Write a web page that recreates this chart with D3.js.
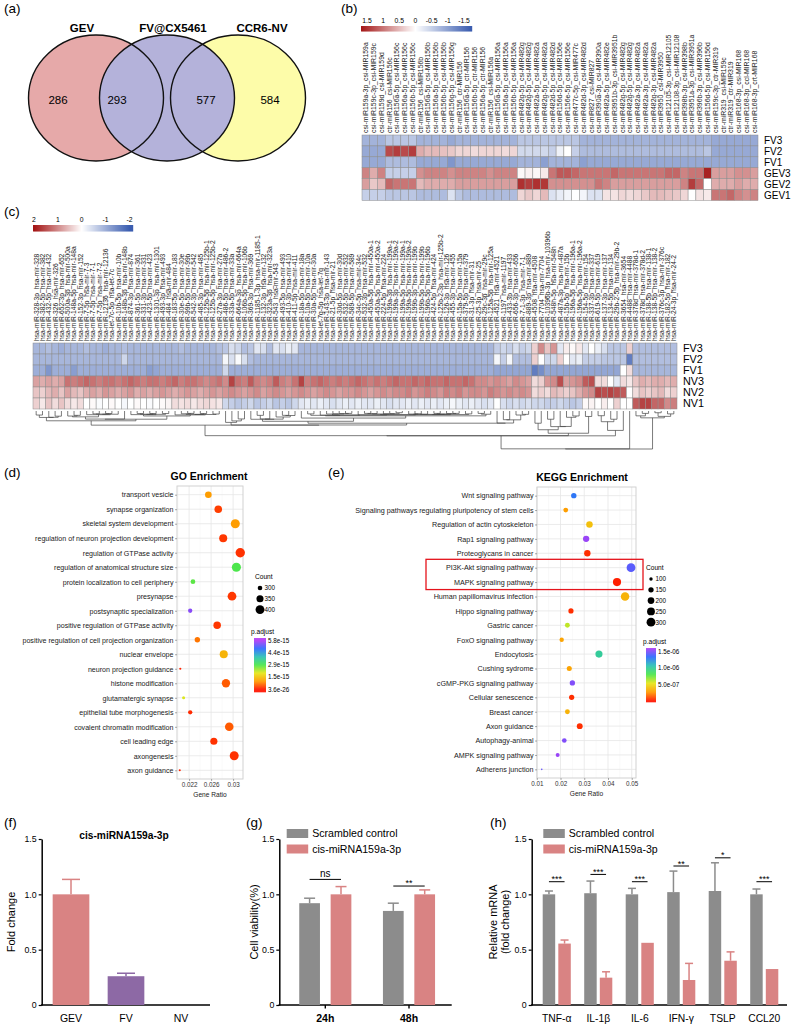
<!DOCTYPE html>
<html>
<head>
<meta charset="utf-8">
<script src="https://cdn.jsdelivr.net/npm/d3@7"></script>
<style>
  body { margin: 0; background: #fff; }
  svg text { font-family: "Liberation Sans", Arial, Helvetica, sans-serif; }
</style>
</head>
<body>
<svg id="fig" width="793" height="1027"></svg>
<script>
// ---------- data ----------
// (a) venn
const vennSets = ["GEV", "FV@CX5461", "CCR6-NV"];
const vennCounts = [286, 293, 577, 584]; // GEV only, GEV&FV, FV&NV, NV only

// (b) plant miRNA heatmap
const bRows = ["FV3", "FV2", "FV1", "GEV3", "GEV2", "GEV1"];
const bCols = ["csi-miR159a-3p_csi-MIR159a", "csi-miR159c-3p_csi-MIR159c", "csi-miR159d_csi-MIR159d",
  "ctr-miR156_csi-MIR156c", "csi-miR156a-5p_csi-MIR156c", "csi-miR156a-5p_csi-MIR156c", "csi-miR156b-5p_csi-MIR156c",
  "ctr-miR156_csi-MIR156b", "csi-miR156a-5p_csi-MIR156b", "csi-miR156a-5p_csi-MIR156b", "csi-miR156b-5p_csi-MIR156b",
  "csi-miR156g-5p_csi-MIR156g", "ctr-miR156_ctr-MIR156", "csi-miR156a-5p_ctr-MIR156", "csi-miR156b-5p_ctr-MIR156",
  "csi-miR156a-5p_ctr-MIR156", "ctr-miR156_csi-MIR156a", "csi-miR156a-5p_csi-MIR156a", "csi-miR156a-5p_csi-MIR156a",
  "csi-miR156b-5p_csi-MIR156a", "csi-miR482g-5p_csi-MIR482g", "csi-miR482g-5p_csi-MIR482g", "csi-miR482a-5p_csi-MIR482a",
  "csi-miR482g-5p_csi-MIR482a", "csi-miR482d-5p_csi-MIR482d", "csi-miR156d-5p_csi-MIR156e", "csi-miR156e-5p_csi-MIR156e",
  "csi-miR477c-5p_csi-MIR477c", "csi-miR482d-3p_csi-MIR482d", "csi-miR827_csi-MIR827", "csi-miR390a-3p_csi-MIR390a",
  "csi-miR482a-5p_csi-MIR482e", "csi-miR3951b-3p_csi-MIR3951b", "csi-miR482g-5p_csi-MIR482g", "csi-miR482g-5p_csi-MIR482g",
  "csi-miR482a-3p_csi-MIR482a", "csi-miR482a-3p_csi-MIR482a", "csi-miR482g-3p_csi-MIR482a", "csi-miR3950_csi-MIR3950",
  "csi-miR12105-3p_csi-MIR12105", "csi-miR12108-3p_csi-MIR12108", "csi-miR398b-3p_csi-MIR398b", "csi-miR3951a-3p_csi-MIR3951a",
  "csi-miR396b-3p_csi-MIR396b", "csi-miR156d-5p_csi-MIR156d", "csi-miR159c-3p_ctr-MIR319", "ctr-miR319_csi-MIR159c",
  "ctr-miR319_ctr-MIR319", "csi-miR168-3p_csi-MIR168", "csi-miR168-3p_ccl-MIR168", "csi-miR168-3p_crt-MIR168"];
const bFV3 = [-0.8,-0.8,-0.8,-0.6,-0.6,-0.6,-0.6,-0.8,-0.8,-0.8,
  -0.8,-0.9,-0.8,-0.8,-0.8,-0.8,-0.8,-0.8,-0.8,-0.8,
  -0.6,-0.6,-0.6,-0.6,-0.6,-0.6,-0.6,-0.6,-0.8,-0.8,
  -0.8,-0.8,-0.8,-0.8,-0.8,-0.8,-0.8,-0.8,-0.8,-0.8,
  -0.8,-0.8,-0.8,-0.8,-0.8,-0.9,-0.9,-0.9,-0.9,-0.9, -0.9];
const bFV2 = [-0.9,-0.9,-0.9,1.3,1.4,1.3,1.4,0.6,0.5,0.5,
  0.45,0.4,0.3,0.3,0.25,0.3,0.3,0.3,0.25,0.3,
  -0.4,-0.4,-0.4,-0.4,-0.5,-0.15,0.0,-0.5,-0.7,-0.7,
  -0.7,-0.7,-0.7,-0.7,-0.7,-0.7,-0.7,-0.7,-0.7,-0.7,
  -0.7,-0.7,-0.7,-0.7,-0.6,-0.9,-0.9,-0.9,-0.9,-0.9, -0.9];
const bFV1 = [-0.9,-0.9,-0.9,-0.7,-0.7,-0.7,-0.7,-0.9,-0.9,-0.9,
  -0.9,-1.1,-0.9,-0.9,-0.9,-0.9,-0.9,-0.9,-0.9,-0.9,
  -0.8,-0.8,-0.8,-1.0,-0.8,-0.8,-0.8,-0.8,-1.0,-0.9,
  -0.9,-0.9,-0.9,-0.9,-0.9,-0.9,-0.9,-0.9,-0.9,-0.9,
  -0.9,-0.9,-0.9,-0.9,-0.9,-0.9,-0.9,-0.9,-0.9,-0.9, -0.9];
const bGEV3 = [0.9,0.6,0.9,-0.5,-0.5,-0.5,-0.5,0.8,0.9,0.9,
  0.9,0.8,0.9,0.9,0.9,0.9,0.8,0.9,0.9,0.9,
  0.05,0.1,0.05,0.15,1.0,1.2,1.2,1.1,1.0,1.0,
  1.0,1.0,1.1,1.0,1.0,1.0,1.0,1.0,1.0,1.1,
  1.1,0.9,1.0,1.0,1.6,0.7,0.7,0.7,0.8,0.8, 0.7];
const bGEV2 = [0.7,0.4,0.5,1.1,1.0,1.0,1.0,0.5,0.6,0.6,
  0.6,0.6,0.7,0.7,0.7,0.7,0.7,0.7,0.7,0.7,
  1.5,1.4,1.5,1.45,0.8,0.8,0.8,0.8,0.8,0.8,
  1.0,0.9,0.7,0.7,0.7,0.7,0.7,0.7,0.7,0.7,
  0.7,0.9,1.4,1.1,0.0,0.6,0.6,0.6,0.7,0.6, 0.6];
const bGEV1 = [-0.5,-0.5,-0.5,-0.6,-0.6,-0.6,-0.6,-0.7,-0.7,-0.7,
  -0.7,-0.3,-0.6,-0.7,-0.7,-0.7,-0.7,-0.7,-0.7,-0.7,
  0.3,0.4,0.3,0.5,-0.3,-0.2,-0.1,0.0,-0.1,-0.3,
  -0.3,0.2,0.2,0.3,0.25,0.3,0.4,0.5,0.5,0.45,
  0.4,0.3,0.0,0.2,0.15,1.0,1.0,1.1,0.9,0.8, 0.9];
const bTicks = [1.5, 1, 0.5, 0, -0.5, -1, -1.5];

// (c) human miRNA heatmap
const cRows = ["FV3", "FV2", "FV1", "NV3", "NV2", "NV1"];
const cCols = ["hsa-miR-328-3p_hsa-mir-328", "hsa-miR-382-5p_hsa-mir-382", "hsa-miR-432-5p_hsa-mir-432",
  "hsa-miR-326_hsa-mir-326", "hsa-miR-652-3p_hsa-mir-652", "hsa-miR-500a-3p_hsa-mir-500a", "hsa-miR-148a-5p_hsa-mir-148a",
  "hsa-miR-152-3p_hsa-mir-152", "hsa-miR-7-5p_hsa-mir-7-3", "hsa-miR-7-5p_hsa-mir-7-1", "hsa-miR-7-5p_hsa-mir-7-2",
  "hsa-miR-12136_hsa-mir-12136", "hsa-let-7c-5p_hsa-let-7c", "hsa-miR-10b-5p_hsa-mir-10b", "hsa-miR-148b-3p_hsa-mir-148b",
  "hsa-miR-874-3p_hsa-mir-874", "hsa-miR-361-5p_hsa-mir-361", "hsa-miR-331-3p_hsa-mir-331", "hsa-miR-423-5p_hsa-mir-423",
  "hsa-miR-1301-3p_hsa-mir-1301", "hsa-miR-493-3p_hsa-mir-493", "hsa-miR-484_hsa-mir-484", "hsa-miR-183-5p_hsa-mir-183",
  "hsa-miR-30e-5p_hsa-mir-30e", "hsa-miR-99b-5p_hsa-mir-99b", "hsa-miR-542-3p_hsa-mir-542", "hsa-miR-485-3p_hsa-mir-485",
  "hsa-miR-125b-5p_hsa-mir-125b-1", "hsa-miR-125b-5p_hsa-mir-125b-2", "hsa-miR-27a-3p_hsa-mir-27a",
  "hsa-miR-486-5p_hsa-mir-486-2", "hsa-miR-33a-5p_hsa-mir-33a", "hsa-miR-664a-3p_hsa-mir-664a",
  "hsa-miR-106b-5p_hsa-mir-106b", "hsa-miR-369-3p_hsa-mir-369", "hsa-miR-1185-1-3p_hsa-mir-1185-1",
  "hsa-miR-132-3p_hsa-mir-132", "hsa-miR-323a-3p_hsa-mir-323a", "hsa-miR-543_hsa-mir-543", "hsa-miR-493-5p_hsa-mir-493",
  "hsa-miR-410-3p_hsa-mir-410", "hsa-miR-411-5p_hsa-mir-411", "hsa-miR-18a-5p_hsa-mir-18a", "hsa-miR-10a-5p_hsa-mir-10a",
  "hsa-miR-30a-5p_hsa-mir-30a", "hsa-let-7g-5p_hsa-let-7g", "hsa-miR-143-3p_hsa-mir-143", "hsa-miR-21-5p_hsa-mir-21",
  "hsa-miR-30d-5p_hsa-mir-30d", "hsa-miR-532-5p_hsa-mir-532", "hsa-miR-589-5p_hsa-mir-589", "hsa-miR-34c-5p_hsa-mir-34c",
  "hsa-miR-532-3p_hsa-mir-532", "hsa-miR-450a-5p_hsa-mir-450a-1", "hsa-miR-450a-5p_hsa-mir-450a-2",
  "hsa-miR-224-5p_hsa-mir-224", "hsa-miR-199a-3p_hsa-mir-199a-1", "hsa-miR-199a-3p_hsa-mir-199a-2",
  "hsa-miR-199a-5p_hsa-mir-199a-1", "hsa-miR-199a-5p_hsa-mir-199a-2", "hsa-miR-199b-3p_hsa-mir-199b",
  "hsa-miR-199b-5p_hsa-mir-199b", "hsa-miR-196b-5p_hsa-mir-196b", "hsa-miR-424-5p_hsa-mir-424",
  "hsa-miR-125b-2-3p_hsa-mir-125b-2", "hsa-miR-126-3p_hsa-mir-126", "hsa-miR-455-3p_hsa-mir-455",
  "hsa-miR-15a-5p_hsa-mir-15a", "hsa-miR-379-5p_hsa-mir-379", "hsa-miR-31-3p_hsa-mir-31", "hsa-miR-25-3p_hsa-mir-25",
  "hsa-miR-29c-3p_hsa-mir-29c", "hsa-miR-125a-5p_hsa-mir-125a", "hsa-miR-4521_hsa-mir-4521", "hsa-miR-1197_hsa-mir-1197",
  "hsa-miR-433-3p_hsa-mir-433", "hsa-miR-656-3p_hsa-mir-656", "hsa-miR-7-1-3p_hsa-mir-7-1", "hsa-miR-889-3p_hsa-mir-889",
  "hsa-miR-4508_hsa-mir-4508", "hsa-miR-7704_hsa-mir-7704", "hsa-miR-10396b-3p_hsa-mir-10396b",
  "hsa-miR-548h-5p_hsa-mir-548h", "hsa-miR-487a-3p_hsa-mir-487a", "hsa-miR-15b-5p_hsa-mir-15b",
  "hsa-miR-196a-5p_hsa-mir-196a-1", "hsa-miR-196a-5p_hsa-mir-196a-2", "hsa-miR-154-5p_hsa-mir-154",
  "hsa-miR-337-3p_hsa-mir-337", "hsa-miR-619-5p_hsa-mir-619", "hsa-miR-137-3p_hsa-mir-137", "hsa-miR-134-5p_hsa-mir-134",
  "hsa-miR-29b-2-5p_hsa-mir-29b-2", "hsa-miR-3654_hsa-mir-3654", "hsa-miR-4488_hsa-mir-4488",
  "hsa-miR-378d_hsa-mir-378d-1", "hsa-miR-378d_hsa-mir-378d-2", "hsa-miR-138-5p_hsa-mir-138-1",
  "hsa-miR-138-5p_hsa-mir-138-2", "hsa-miR-376c-3p_hsa-mir-376c", "hsa-miR-182-5p_hsa-mir-182", "hsa-miR-24-3p_hsa-mir-24-2"];
const cFV3 = [-0.9,-0.9,-0.8,-0.9,-1.0,-0.9,-0.9,-0.9,-0.8,-0.9,
  -0.9,-1.0,-0.9,-0.9,-0.8,-0.9,-0.9,-0.9,-0.9,-0.9,
  -0.9,-0.9,-0.9,-0.8,-0.9,-0.9,-0.9,-0.9,-0.9,-0.8,
  -0.7,-0.4,-0.5,-0.8,-0.7,-0.3,-0.4,-0.8,-0.3,-0.4,
  -0.2,-0.3,-0.9,-0.9,-0.9,-0.9,-0.9,-0.9,-0.9,-0.9,
  -0.9,-0.9,-0.9,-0.9,-0.9,-0.9,-0.9,-0.9,-0.9,-0.9,
  -0.9,-0.9,-0.9,-0.9,-0.9,-0.9,-0.9,-0.9,-0.9,-0.9,
  -0.9,-0.9,-0.9,-0.6,-0.5,-0.6,-0.4,-0.6,-0.5,0.4,
  1.0,0.5,0.9,-0.3,0.15,0.05,0.2,-0.3,0.0,-0.2,
  -0.4,-0.7,-0.7,-0.7,0.4,-0.8,-0.8,-0.8,-0.8,-0.8,
  -0.8,-0.8];
const cFV2 = [-0.9,-0.9,-0.9,-0.9,-0.9,-0.9,-0.9,-0.9,-0.9,-0.9,
  -0.9,-0.9,-0.9,-0.9,-0.5,-0.9,-0.9,-0.9,-0.9,-0.9,
  -0.9,-0.9,-0.9,-0.9,-0.9,-0.9,-0.9,-0.9,-0.9,-0.9,
  -0.1,-0.4,-0.05,-0.4,-0.8,-0.9,-0.9,-0.9,-0.9,-0.9,
  -0.9,-0.9,-0.9,-0.9,-0.9,-0.9,-0.9,-0.9,-0.9,-0.9,
  -0.9,-0.9,-0.9,-0.9,-0.9,-0.9,-0.9,-0.9,-0.9,-0.9,
  -0.9,-0.9,-0.9,-0.9,-0.9,-0.9,-0.9,-0.9,-0.9,-0.9,
  -0.9,-0.9,-0.9,-0.1,-0.6,-0.1,-0.8,-0.8,-0.8,0.4,
  0.0,-0.5,-0.5,0.4,0.0,-0.3,-0.2,-0.6,-0.6,-0.6,
  -0.7,-0.7,-0.7,-0.7,-1.6,-0.8,-0.8,-0.8,-0.8,-0.8,
  -0.8,-0.8];
const cFV1 = [-1.0,-1.0,-1.3,-1.0,-1.0,-1.0,-1.2,-1.0,-1.0,-1.0,
  -1.0,-1.0,-1.0,-1.0,-1.0,-1.0,-1.0,-1.0,-1.2,-1.1,
  -1.0,-1.0,-1.0,-1.0,-1.0,-1.0,-1.0,-1.0,-1.0,-1.0,
  -0.5,-1.0,-1.0,-1.0,-1.0,-1.0,-1.0,-1.0,-1.0,-1.0,
  -1.0,-1.0,-1.0,-1.0,-1.0,-1.0,-1.0,-1.0,-1.0,-1.0,
  -1.0,-1.0,-1.0,-1.0,-1.0,-1.0,-1.0,-1.0,-1.0,-1.0,
  -1.0,-1.0,-1.0,-1.0,-1.0,-1.0,-1.0,-1.0,-1.0,-1.0,
  -1.0,-1.0,-1.0,-1.1,-1.1,-1.1,-1.1,-1.1,-1.1,-1.6,
  -1.4,-1.1,-1.1,-1.1,-1.1,-1.1,-1.1,-1.1,-1.1,-1.1,
  -1.1,-1.1,-1.1,0.0,0.3,-0.9,-0.9,-0.9,-0.9,-0.9,
  -0.9,-0.9];
const cNV3 = [0.8,0.7,0.8,0.7,0.8,1.2,1.1,1.2,1.3,1.2,
  1.1,1.2,1.2,1.1,1.2,1.3,1.2,1.1,1.2,1.2,
  1.1,1.2,1.3,1.1,1.2,1.2,1.1,1.0,1.1,1.2,
  1.0,1.6,1.2,1.1,1.4,1.1,1.0,1.1,1.4,1.1,
  1.0,1.2,1.6,1.1,1.2,1.3,1.2,1.1,1.2,1.1,
  1.2,1.3,1.2,1.1,1.2,1.1,1.2,1.3,1.2,1.2,
  1.3,1.2,1.3,1.2,1.2,1.3,1.2,1.2,1.3,1.2,
  1.0,1.0,0.9,1.0,0.9,0.8,1.0,0.9,0.8,0.3,
  0.4,0.9,1.0,1.5,0.8,0.9,1.0,1.4,1.5,0.3,
  0.3,0.0,-0.3,0.3,0.2,0.5,0.7,0.6,0.7,0.7,
  0.6,0.7];
const cNV2 = [0.5,0.4,0.6,0.7,0.5,0.8,0.6,0.5,0.7,0.8,
  0.7,0.9,0.8,0.7,0.8,0.9,0.7,0.8,0.7,0.8,
  0.9,0.8,0.7,0.8,0.9,0.8,0.7,0.8,0.9,0.8,
  0.9,1.0,0.9,0.8,0.9,1.0,0.8,0.9,1.0,0.9,
  0.8,0.9,1.0,0.9,0.8,0.9,1.0,0.9,0.8,0.9,
  0.9,1.0,0.9,0.8,0.9,1.0,0.9,1.0,1.0,1.1,
  0.9,1.0,1.1,1.0,0.9,1.1,1.0,1.1,0.9,1.0,
  1.0,0.9,1.1,1.0,0.9,1.0,0.9,1.0,0.9,0.3,
  0.4,0.3,0.6,0.5,0.4,0.5,0.7,0.9,1.0,1.6,
  1.5,1.6,1.5,1.4,0.0,0.3,0.5,0.4,0.5,0.6,
  0.3,0.4];
const cNV1 = [0.4,0.2,0.5,0.3,0.5,0.3,0.2,0.3,0.0,0.05,
  -0.05,0.0,0.05,0.0,-0.1,0.0,0.05,0.0,-0.05,0.0,
  0.05,0.1,0.3,0.25,0.3,0.2,0.3,0.35,0.25,0.2,
  -0.5,-0.6,-0.7,-0.6,-0.5,-0.7,-0.6,-0.5,-0.7,-0.6,
  -0.7,-0.5,-0.3,-0.2,-0.3,-0.2,-0.3,-0.4,-0.3,-0.2,
  -0.3,-0.2,-0.3,-0.3,-0.2,-0.3,-0.4,-0.3,-0.3,-0.2,
  -0.3,-0.2,-0.3,-0.2,-0.3,-0.2,-0.1,-0.2,-0.3,-0.2,
  -0.3,-0.4,-0.3,0.0,-0.4,-0.5,-0.4,-0.5,-0.4,-0.5,
  -0.5,-0.6,-0.6,-0.5,-0.6,-0.7,-0.6,0.05,0.1,0.0,
  0.15,0.0,0.4,0.0,0.0,1.4,1.6,1.6,1.3,1.3,
  1.0,1.1];
const cTicks = [2, 1, 0, -1, -2];

// (d) GO enrichment
const goTerms = ["transport vesicle", "synapse organization", "skeletal system development",
  "regulation of neuron projection development", "regulation of GTPase activity",
  "regulation of anatomical structure size", "protein localization to cell periphery", "presynapse",
  "postsynaptic specialization", "positive regulation of GTPase activity",
  "positive regulation of cell projection organization", "nuclear envelope", "neuron projection guidance",
  "histone modification", "glutamatergic synapse", "epithelial tube morphogenesis",
  "covalent chromatin modification", "cell leading edge", "axongenesis", "axon guidance"];
const goRatio = [0.0255, 0.0273, 0.0304, 0.0282, 0.0313, 0.0306, 0.0227, 0.0298, 0.0222, 0.0271,
  0.0235, 0.0283, 0.0204, 0.0287, 0.0210, 0.0222, 0.0293, 0.0265, 0.0302, 0.0203];
const goCount = [339, 363, 404, 375, 416, 407, 302, 396, 295, 360, 313, 376, 271, 382, 279, 295, 390, 352, 402, 270];
const goPadj = [1.0e-15, 0.3e-15, 1.0e-15, 0.25e-15, 0.2e-15, 2.9e-15, 2.8e-15, 0.25e-15, 5.5e-15, 0.25e-15,
  0.7e-15, 1.3e-15, 0.1e-15, 0.5e-15, 2.0e-15, 0.15e-15, 0.5e-15, 0.2e-15, 0.2e-15, 0.1e-15];
const goTicks = [0.022, 0.026, 0.03];
const goCountBreaks = [300, 350, 400];
const goPadjBreaks = [5.8e-15, 4.4e-15, 2.9e-15, 1.5e-15, 3.6e-26];
const goPadjLabels = ["5.8e-15", "4.4e-15", "2.9e-15", "1.5e-15", "3.6e-26"];

// (e) KEGG enrichment
const keggTerms = ["Wnt signaling pathway", "Signaling pathways regulating pluripotency of stem cells",
  "Regulation of actin cytoskeleton", "Rap1 signaling pathway", "Proteoglycans in cancer",
  "PI3K-Akt signaling pathway", "MAPK signaling pathway", "Human papillomavirus infection",
  "Hippo signaling pathway", "Gastric cancer", "FoxO signaling pathway", "Endocytosis", "Cushing sydrome",
  "cGMP-PKG signaling pathway", "Cellular senescence", "Breast cancer", "Axon guidance", "Autophagy-animal",
  "AMPK signaling pathway", "Adherens junction"];
const keggRatio = [0.0256, 0.0222, 0.0322, 0.0308, 0.0313, 0.0497, 0.0438, 0.0472, 0.0244, 0.0229,
  0.0205, 0.0362, 0.0237, 0.0250, 0.0247, 0.0229, 0.0281, 0.0216, 0.0188, 0.0121];
const keggCount = [154, 133, 193, 185, 188, 298, 263, 283, 146, 137, 123, 217, 142, 150, 148, 137, 169, 130, 113, 73];
const keggPadj = [1.3e-6, 0.28e-6, 0.4e-6, 1.55e-6, 0.05e-6, 1.42e-6, 0.02e-6, 0.35e-6, 0.05e-6, 0.6e-6,
  0.3e-6, 1.0e-6, 0.3e-6, 1.5e-6, 0.05e-6, 0.35e-6, 0.05e-6, 1.5e-6, 1.55e-6, 1.45e-6];
const keggTicks = [0.01, 0.02, 0.03, 0.04, 0.05];
const keggCountBreaks = [100, 150, 200, 250, 300];
const keggPadjBreaks = [1.5e-6, 1.0e-6, 5.0e-7];
const keggPadjLabels = ["1.5e-06", "1.0e-06", "5.0e-07"];
const keggBoxed = ["PI3K-Akt signaling pathway", "MAPK signaling pathway"];

// (f) fold change
const fGroups = ["GEV", "FV", "NV"];
const fMean = [1.0, 0.26, 0];
const fErr = [0.135, 0.027, 0];

// (g) cell viability
const gTimes = ["24h", "48h"];
const gScr = [0.92, 0.85];
const gScrErr = [0.045, 0.07];
const gCis = [1.0, 1.0];
const gCisErr = [0.07, 0.04];
const gSig = ["ns", "**"];
const gSigY = [1.135, 1.075];

// (h) relative mRNA
const hGenes = ["TNF-α", "IL-1β", "IL-6", "IFN-γ", "TSLP", "CCL20"];
const hScr = [1.0, 1.01, 1.0, 1.02, 1.03, 1.0];
const hScrErr = [0.03, 0.11, 0.054, 0.19, 0.255, 0.048];
const hCis = [0.555, 0.247, 0.562, 0.226, 0.40, 0.325];
const hCisErr = [0.032, 0.053, 0.004, 0.15, 0.08, 0.004];
const hSig = ["***", "***", "***", "**", "*", "***"];
const hSigY = [1.114, 1.18, 1.114, 1.256, 1.33, 1.114];

const yTicks = [0, 0.5, 1, 1.5];
const legendNames = ["Scrambled control", "cis-miRNA159a-3p"];

// ---------- drawing ----------
const svg = d3.select("#fig");
svg.append("rect").attr("width", 793).attr("height", 1027).attr("fill", "#fff");

const PINK = "#d98383", GRAY = "#8c8c8c", PURPLE = "#8d69a5";

function panelLabel(t, x, y) {
  svg.append("text").attr("x", x).attr("y", y).attr("font-size", 13.5).text(t);
}
panelLabel("(a)", 4, 13);
panelLabel("(b)", 341, 13);
panelLabel("(c)", 4, 216);
panelLabel("(d)", 4, 477);
panelLabel("(e)", 328, 477);
panelLabel("(f)", 4, 827);
panelLabel("(g)", 246, 827);
panelLabel("(h)", 490, 827);

// ----- (a) venn -----
const venn = svg.append("g");
const vx = d3.scalePoint().domain(vennSets).range([96, 238]);
const vFill = ["#e6a9a9", "#b4b2da", "#fdfca9"];
[0, 2, 1].forEach(i => {
  venn.append("ellipse").attr("cx", vx(vennSets[i])).attr("cy", 98).attr("rx", 67.5).attr("ry", 63)
    .attr("fill", vFill[i]);
});
vennSets.forEach(s => {
  venn.append("ellipse").attr("cx", vx(s)).attr("cy", 98).attr("rx", 67.5).attr("ry", 63)
    .attr("fill", "none").attr("stroke", "#111").attr("stroke-width", 1.4);
});
venn.selectAll(".setlab").data(vennSets).join("text")
  .attr("x", d => vx(d) + (d === "GEV" ? -14 : d === "CCR6-NV" ? 24 : 6)).attr("y", 32)
  .attr("text-anchor", "middle").attr("font-weight", "bold").attr("font-size", 11.5).text(d => d);
const regionX = [vx("GEV") - 38, vx("FV@CX5461") - 50, vx("FV@CX5461") + 39, vx("CCR6-NV") + 32];
venn.selectAll(".cnt").data(vennCounts).join("text")
  .attr("x", (d, i) => regionX[i]).attr("y", 104).attr("text-anchor", "middle")
  .attr("font-size", 11.5).text(d => d);

// ----- heatmap helper -----
function heatmap(o) {
  const g = svg.append("g");
  const x = d3.scaleBand().domain(d3.range(o.cols.length)).range([o.x0, o.x1]);
  const y = d3.scaleBand().domain(o.rows).range([o.y0, o.y1]);
  o.values.forEach((vals, i) => {
    g.selectAll(null).data(vals).join("rect")
      .attr("x", (d, j) => x(j)).attr("y", y(o.rows[i]))
      .attr("width", x.bandwidth()).attr("height", y.bandwidth())
      .attr("fill", d => o.color(d)).attr("stroke", "#8d8d8d").attr("stroke-width", 0.5);
  });
  g.selectAll(".cl").data(o.cols).join("text")
    .attr("transform", (d, j) => `translate(${x(j) + x.bandwidth() / 2 + o.fs * 0.36},${o.y0 - 2}) rotate(-90)`)
    .attr("font-size", o.fs).attr("fill", "#1a1a1a").text(d => d);
  g.selectAll(".rl").data(o.rows).join("text")
    .attr("x", o.x1 + 6).attr("y", d => y(d) + y.bandwidth() / 2 + o.rowFs * 0.36)
    .attr("font-size", o.rowFs).text(d => d);
  // colour key
  const lx = d3.scaleLinear().domain(o.keyDomain).range(o.keyRange);
  const steps = d3.range(o.keyX0, o.keyX1, 1);
  g.selectAll(".key").data(steps).join("rect")
    .attr("x", d => d).attr("y", o.keyY).attr("width", 1.2).attr("height", o.keyH)
    .attr("fill", d => o.color(lx.invert(d + 0.5)));
  g.selectAll(".kt").data(o.keyTicks).join("text")
    .attr("x", d => lx(d)).attr("y", o.keyY - 3.5).attr("text-anchor", "middle")
    .attr("font-size", 6.8).text(d => d);
  return {g, x, y};
}

// ----- (b) -----
const bColor = d3.scaleLinear().domain([1.7, 0, -1.7]).range(["#a31414", "#ffffff", "#3b5db0"]).clamp(true);
heatmap({
  cols: bCols, rows: bRows, values: [bFV3, bFV2, bFV1, bGEV3, bGEV2, bGEV1],
  x0: 362, x1: 758, y0: 135, y1: 200.5, color: bColor, fs: 6.9, rowFs: 10,
  keyDomain: [1.5, -1.5], keyRange: [367, 464], keyX0: 361, keyX1: 472, keyY: 26, keyH: 5.5, keyTicks: bTicks
});

// ----- (c) -----
const cColor = d3.scaleLinear().domain([2, 0, -2]).range(["#a31414", "#ffffff", "#3b5db0"]).clamp(true);
const cVals = [cFV3, cFV2, cFV1, cNV3, cNV2, cNV1];
const cMap = heatmap({
  cols: cCols, rows: cRows, values: cVals,
  x0: 33, x1: 677, y0: 343, y1: 409, color: cColor, fs: 6.7, rowFs: 10.8,
  keyDomain: [2, -2], keyRange: [34, 129.5], keyX0: 33, keyX1: 133, keyY: 225, keyH: 6.5, keyTicks: cTicks
});

// column dendrogram: average linkage, merging neighbouring clusters only (keeps the column order)
function clusterColumns(rows) {
  const n = rows[0].length;
  const vec = d3.range(n).map(j => rows.map(r => r[j]));
  const dist = (a, b) => Math.sqrt(d3.sum(a, (v, k) => (v - b[k]) ** 2));
  const link = (A, B) => d3.mean(A.members, i => d3.mean(B.members, j => dist(vec[i], vec[j])));
  let cl = vec.map((v, j) => ({members: [j], height: 0, leaf: j}));
  while (cl.length > 1) {
    let best = 0, bd = Infinity;
    for (let i = 0; i < cl.length - 1; i++) {
      const d = link(cl[i], cl[i + 1]);
      if (d < bd) { bd = d; best = i; }
    }
    const a = cl[best], b = cl[best + 1];
    cl.splice(best, 2, {members: a.members.concat(b.members), height: Math.max(bd, a.height, b.height) + 0.01, left: a, right: b});
  }
  return cl[0];
}
const root = clusterColumns(cVals);
const dy = d3.scaleLinear().domain([0, root.height]).range([411, 449]);
const dendro = svg.append("g").attr("fill", "none").attr("stroke", "#444").attr("stroke-width", 0.7);
(function walk(node) {
  if (node.leaf !== undefined) { node.px = cMap.x(node.leaf) + cMap.x.bandwidth() / 2; return; }
  walk(node.left); walk(node.right);
  node.px = (node.left.px + node.right.px) / 2;
  dendro.append("path").attr("d",
    `M${node.left.px},${dy(node.left.height)}V${dy(node.height)}H${node.right.px}V${dy(node.right.height)}`);
})(root);

// ----- dot plot helper (d, e) -----
const rainbow = d3.piecewise(d3.interpolateRgb,
  ["#ff1500", "#ff9a00", "#e6e61a", "#4ce64c", "#2cc2b4", "#2e6bff", "#b23cf5"]);

function dotPlot(o) {
  const g = svg.append("g");
  const x = d3.scaleLinear().domain(o.xDomain).range([o.left, o.right]);
  const y = d3.scalePoint().domain(o.terms).range([o.top, o.bottom]).padding(0.6);
  const r = d3.scaleRadial().domain(o.countDomain).range(o.rRange);
  const col = d3.scaleSequential(rainbow).domain(o.padjDomain).clamp(true);

  g.append("text").attr("x", o.titleX).attr("y", o.top - 6).attr("text-anchor", "middle")
    .attr("font-weight", "bold").attr("font-size", 10.5).text(o.title);
  g.selectAll(".minor").data(o.minor).join("line")
    .attr("x1", d => x(d)).attr("x2", d => x(d)).attr("y1", o.top).attr("y2", o.bottom)
    .attr("stroke", "#f3f3f3").attr("stroke-width", 0.5);
  g.selectAll(".major").data(o.ticks).join("line")
    .attr("x1", d => x(d)).attr("x2", d => x(d)).attr("y1", o.top).attr("y2", o.bottom)
    .attr("stroke", "#e6e6e6").attr("stroke-width", 0.8);
  g.selectAll(".hgrid").data(o.terms).join("line")
    .attr("x1", o.left).attr("x2", o.right).attr("y1", d => y(d)).attr("y2", d => y(d))
    .attr("stroke", "#e6e6e6").attr("stroke-width", 0.8);
  g.append("rect").attr("x", o.left).attr("y", o.top).attr("width", o.right - o.left)
    .attr("height", o.bottom - o.top).attr("fill", "none").attr("stroke", "#cdcdcd").attr("stroke-width", 0.9);

  g.selectAll(".pt").data(o.terms).join("circle")
    .attr("cx", (d, i) => x(o.ratio[i])).attr("cy", d => y(d))
    .attr("r", (d, i) => r(o.count[i])).attr("fill", (d, i) => col(o.padj[i]));

  const ya = g.append("g").attr("transform", `translate(${o.left},0)`)
    .call(d3.axisLeft(y).tickSize(2).tickPadding(1.5));
  ya.select(".domain").remove();
  ya.selectAll("line").attr("stroke", "#555").attr("stroke-width", 0.5);
  ya.selectAll("text").attr("font-size", o.labFs).attr("fill", "#1a1a1a").attr("font-family", null);

  const xa = g.append("g").attr("transform", `translate(0,${o.bottom})`)
    .call(d3.axisBottom(x).tickValues(o.ticks).tickFormat((d, i) => o.tickLabels[i]).tickSize(2).tickPadding(1.5));
  xa.select(".domain").remove();
  xa.selectAll("line").attr("stroke", "#555").attr("stroke-width", 0.5);
  xa.selectAll("text").attr("font-size", 6.3).attr("fill", "#333").attr("font-family", null);
  g.append("text").attr("x", (o.left + o.right) / 2).attr("y", o.bottom + 18).attr("text-anchor", "middle")
    .attr("font-size", 6.6).attr("fill", "#222").text("Gene Ratio");

  // size legend
  g.append("text").attr("x", o.cntX).attr("y", o.cntY).attr("font-size", 6.6).text("Count");
  const cy = d3.scalePoint().domain(o.countBreaks).range([o.cntY + 9, o.cntY + 9 + 10.8 * (o.countBreaks.length - 1)]);
  g.selectAll(".lc").data(o.countBreaks).join("circle")
    .attr("cx", o.cntX + 5).attr("cy", d => cy(d)).attr("r", d => r(d)).attr("fill", "#000");
  g.selectAll(".lt").data(o.countBreaks).join("text")
    .attr("x", o.cntX + 9.5).attr("y", d => cy(d) + 2.3).attr("font-size", 6.3).text(d => d);

  // colour bar
  g.append("text").attr("x", o.barX - 3).attr("y", o.barTop - 4).attr("font-size", 6.6).text("p.adjust");
  const by = d3.scaleLinear().domain(o.barDomain).range(o.barRange);
  g.selectAll(".cb").data(d3.range(o.barTop, o.barBottom, 0.5)).join("rect")
    .attr("x", o.barX).attr("y", d => d).attr("width", o.barW).attr("height", 0.8)
    .attr("fill", d => col(by.invert(d + 0.25)));
  g.selectAll(".cbt").data(o.padjBreaks).join("text")
    .attr("x", o.barX + o.barW + 2).attr("y", d => by(d) + 2.3).attr("font-size", 6.3)
    .text((d, i) => o.padjLabels[i]);
  return {g, x, y};
}

dotPlot({
  title: "GO Enrichment", titleX: 209, terms: goTerms, ratio: goRatio, count: goCount, padj: goPadj,
  left: 177, right: 243, top: 486, bottom: 779, xDomain: [0.0198, 0.0318],
  ticks: goTicks, tickLabels: ["0.022", "0.026", "0.03"], minor: [0.020, 0.024, 0.028],
  countDomain: [270, 416], rRange: [1, 4.7], padjDomain: [3.6e-26, 5.8e-15], labFs: 7.1,
  countBreaks: goCountBreaks, cntX: 255, cntY: 579,
  barX: 254, barW: 12, barTop: 638, barBottom: 692, barDomain: [0, 5.8e-15], barRange: [689.5, 640.5],
  padjBreaks: goPadjBreaks, padjLabels: goPadjLabels
});

const kegg = dotPlot({
  title: "KEGG Enrichment", titleX: 582, terms: keggTerms, ratio: keggRatio, count: keggCount, padj: keggPadj,
  left: 537, right: 636, top: 487, bottom: 778, xDomain: [0.0101, 0.0518],
  ticks: keggTicks, tickLabels: ["0.01", "0.02", "0.03", "0.04", "0.05"], minor: [0.015, 0.025, 0.035, 0.045],
  countDomain: [73, 298], rRange: [0.8, 4.4], padjDomain: [0, 1.6e-6], labFs: 7.2,
  countBreaks: keggCountBreaks, cntX: 646, cntY: 570,
  barX: 646, barW: 10, barTop: 648, barBottom: 702, barDomain: [0, 1.6e-6], barRange: [701, 648],
  padjBreaks: keggPadjBreaks, padjLabels: keggPadjLabels
});
// highlight box
const ks = kegg.y.step();
kegg.g.append("rect").attr("x", 426).attr("y", kegg.y(keggBoxed[0]) - ks * 0.58)
  .attr("width", 217).attr("height", kegg.y(keggBoxed[1]) - kegg.y(keggBoxed[0]) + ks * 1.1)
  .attr("fill", "none").attr("stroke", "#e5131b").attr("stroke-width", 1.3);

// ----- bar chart helpers (f, g, h) -----
function barFrame(o) {
  const g = svg.append("g");
  const y = d3.scaleLinear().domain([0, 1.5]).range([1005, 839]);
  const ya = g.append("g").attr("transform", `translate(${o.xl},0)`)
    .call(d3.axisLeft(y).tickValues(yTicks).tickFormat(d => d === 0 ? "0" : d3.format(".1f")(d))
      .tickSize(3).tickSizeOuter(0).tickPadding(2));
  ya.select(".domain").attr("stroke-width", 1.5);
  ya.selectAll("line").attr("stroke-width", 1.2);
  ya.selectAll("text").attr("font-size", 8.8).attr("font-family", null);
  g.append("line").attr("x1", o.xl - 0.75).attr("x2", o.xr).attr("y1", y(0)).attr("y2", y(0))
    .attr("stroke", "#000").attr("stroke-width", 1.6);
  o.yLabel.forEach((t, i) => {
    g.append("text").attr("transform", `translate(${o.labX + i * 11.5},922) rotate(-90)`)
      .attr("text-anchor", "middle").attr("font-size", 11).text(t);
  });
  return {g, y};
}

function errBar(g, cx, top, err, half, color, y) {
  if (err <= 0.006) return;
  g.append("line").attr("x1", cx).attr("x2", cx).attr("y1", y(top)).attr("y2", y(top + err))
    .attr("stroke", color).attr("stroke-width", 1.5);
  g.append("line").attr("x1", cx - half).attr("x2", cx + half).attr("y1", y(top + err)).attr("y2", y(top + err))
    .attr("stroke", color).attr("stroke-width", 1.5);
}

function legend(g, x, yTop) {
  [GRAY, PINK].forEach((c, i) => {
    g.append("rect").attr("x", x).attr("y", yTop + i * 15.5).attr("width", 21.5).attr("height", 9).attr("fill", c);
    g.append("text").attr("x", x + 25.5).attr("y", yTop + i * 15.5 + 8).attr("font-size", 10.6).text(legendNames[i]);
  });
}

// (f)
{
  const {g, y} = barFrame({xl: 41.7, xr: 210, yLabel: ["Fold change"], labX: 15});
  const x = d3.scaleBand().domain(fGroups).range([43.5, 208.5]).paddingInner(0.333).paddingOuter(0.1667);
  const fCols = [PINK, PURPLE, PINK];
  g.selectAll(".bar").data(fGroups).join("rect")
    .attr("x", d => x(d)).attr("width", x.bandwidth())
    .attr("y", (d, i) => y(fMean[i])).attr("height", (d, i) => y(0) - y(fMean[i]))
    .attr("fill", (d, i) => fCols[i]);
  fGroups.forEach((d, i) => errBar(g, x(d) + x.bandwidth() / 2, fMean[i], fErr[i], 9, fCols[i], y));
  g.selectAll(".xl").data(fGroups).join("text")
    .attr("x", d => x(d) + x.bandwidth() / 2).attr("y", 1022).attr("text-anchor", "middle")
    .attr("font-size", 10.5).text(d => d);
  g.append("text").attr("x", 124).attr("y", 838.5).attr("text-anchor", "middle")
    .attr("font-weight", "bold").attr("font-size", 10.2).text("cis-miRNA159a-3p");
}

// (g)
{
  const {g, y} = barFrame({xl: 279.3, xr: 451.7, yLabel: ["Cell viability(%)"], labX: 258});
  const x0 = d3.scaleBand().domain(gTimes).range([283.45, 450.85]);
  const x1 = d3.scaleBand().domain(legendNames).range([0, x0.bandwidth()]).paddingInner(0.34).paddingOuter(0.503);
  const series = [[gScr, gScrErr, GRAY], [gCis, gCisErr, PINK]];
  series.forEach(([m, e, c], s) => {
    gTimes.forEach((t, i) => {
      const bx = x0(t) + x1(legendNames[s]);
      g.append("rect").attr("x", bx).attr("width", x1.bandwidth())
        .attr("y", y(m[i])).attr("height", y(0) - y(m[i])).attr("fill", c);
      errBar(g, bx + x1.bandwidth() / 2, m[i], e[i], 5.5, c, y);
    });
  });
  gTimes.forEach((t, i) => {
    const a = x0(t) + x1(legendNames[0]) + x1.bandwidth() / 2, b = x0(t) + x1(legendNames[1]) + x1.bandwidth() / 2;
    g.append("line").attr("x1", a).attr("x2", b).attr("y1", y(gSigY[i])).attr("y2", y(gSigY[i]))
      .attr("stroke", "#000").attr("stroke-width", 1);
    g.append("text").attr("x", (a + b) / 2).attr("y", y(gSigY[i]) - (gSig[i] === "ns" ? 2.5 : 0.5))
      .attr("text-anchor", "middle").attr("font-size", gSig[i] === "ns" ? 10 : 9).text(gSig[i]);
    const cx = x0(t) + x0.bandwidth() / 2;
    g.append("line").attr("x1", cx).attr("x2", cx).attr("y1", y(0)).attr("y2", y(0) + 3.5)
      .attr("stroke", "#000").attr("stroke-width", 1.4);
    g.append("text").attr("x", cx).attr("y", 1022).attr("text-anchor", "middle")
      .attr("font-size", 10.5).attr("font-weight", "bold").text(t);
  });
  legend(g, 286.7, 829);
}

// (h)
{
  const {g, y} = barFrame({xl: 531.7, xr: 787, yLabel: ["Relative mRNA", "(fold change)"], labX: 497});
  const x0 = d3.scaleBand().domain(hGenes).range([536, 785]);
  const x1 = d3.scaleBand().domain(legendNames).range([0, x0.bandwidth()]).paddingInner(0.2).paddingOuter(0.43);
  const series = [[hScr, hScrErr, GRAY], [hCis, hCisErr, PINK]];
  series.forEach(([m, e, c], s) => {
    hGenes.forEach((t, i) => {
      const bx = x0(t) + x1(legendNames[s]);
      g.append("rect").attr("x", bx).attr("width", x1.bandwidth())
        .attr("y", y(m[i])).attr("height", y(0) - y(m[i])).attr("fill", c);
      errBar(g, bx + x1.bandwidth() / 2, m[i], e[i], 4, c, y);
    });
  });
  hGenes.forEach((t, i) => {
    const a = x0(t) + x1(legendNames[0]) + x1.bandwidth() / 2, b = x0(t) + x1(legendNames[1]) + x1.bandwidth() / 2;
    g.append("line").attr("x1", a).attr("x2", b).attr("y1", y(hSigY[i])).attr("y2", y(hSigY[i]))
      .attr("stroke", "#000").attr("stroke-width", 1);
    g.append("text").attr("x", (a + b) / 2).attr("y", y(hSigY[i]) + 0.5)
      .attr("text-anchor", "middle").attr("font-size", 9).text(hSig[i]);
    g.append("text").attr("x", x0(t) + x0.bandwidth() / 2).attr("y", 1022).attr("text-anchor", "middle")
      .attr("font-size", 10.3).text(t);
  });
  legend(g, 543.3, 829);
}
</script>
</body>
</html>
